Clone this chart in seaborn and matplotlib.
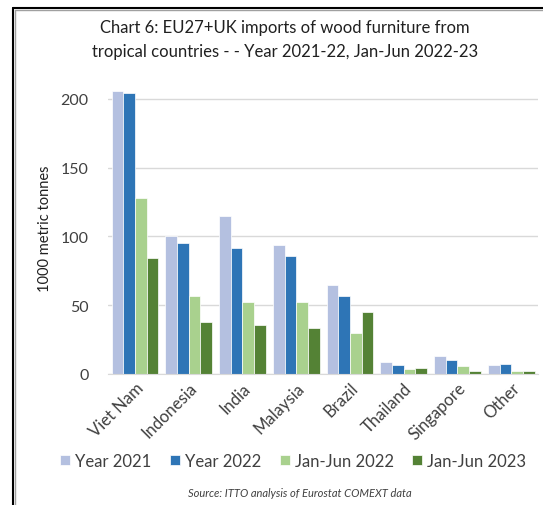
import numpy as np
import pandas as pd
import matplotlib
matplotlib.use("Agg")
import matplotlib.pyplot as plt
import seaborn as sns
from matplotlib.lines import Line2D

# Data (1000 metric tonnes)
countries = ["Viet Nam", "Indonesia", "India", "Malaysia", "Brazil", "Thailand", "Singapore", "Other"]
year_2021 = [205.5, 100.0, 115.0, 93.5, 64.5, 9.0, 13.0, 6.5]
year_2022 = [204.5, 95.0, 91.5, 85.5, 56.5, 6.5, 10.0, 7.5]
jan_jun_2022 = [128.0, 57.0, 52.5, 52.5, 30.0, 3.5, 5.5, 1.8]
jan_jun_2023 = [84.0, 38.0, 35.5, 33.5, 45.0, 4.5, 2.2, 2.2]
series = ["Year 2021", "Year 2022", "Jan-Jun 2022", "Jan-Jun 2023"]
colors = ["#B4C0E0", "#2E75B6", "#A9D18E", "#548235"]

df = pd.DataFrame({"country": countries, series[0]: year_2021, series[1]: year_2022,
                   series[2]: jan_jun_2022, series[3]: jan_jun_2023})
long = df.melt(id_vars="country", var_name="series", value_name="value")

sns.set_style("white")
plt.rcParams["font.family"] = ["Lato", "DejaVu Sans"]

fig = plt.figure(figsize=(5.43, 5.06), dpi=100)
ax = fig.add_axes([0.199, 0.259, 0.792, 0.576])

sns.barplot(data=long, x="country", y="value", hue="series", hue_order=series,
            palette=colors, saturation=1, width=0.87, edgecolor="white", linewidth=0.5,
            errorbar=None, ax=ax)

ax.set_ylim(0, 212)
ax.set_yticks([0, 50, 100, 150, 200])
ax.set_xlim(-0.5, len(countries) - 0.5)
ax.yaxis.grid(True, color="#D9D9D9", linewidth=1)
ax.set_axisbelow(True)
for s in ["top", "right", "left"]:
    ax.spines[s].set_visible(False)
ax.spines["bottom"].set_color("#D9D9D9")
ax.tick_params(axis="both", length=0, labelsize=11.5, colors="#404040")
ax.tick_params(axis="y", pad=14)
ax.tick_params(axis="x", pad=4)
plt.setp(ax.get_xticklabels(), rotation=45, ha="right", rotation_mode="anchor", fontsize=12)
ax.set_xlabel("")
ax.set_ylabel("1000 metric tonnes", fontsize=10.5, color="#202020", labelpad=6)

handles, labels = ax.get_legend_handles_labels()
ax.get_legend().remove()
fig.legend(handles, labels, loc="center", bbox_to_anchor=(0.54, 0.087), ncol=4,
           frameon=False, fontsize=12, handlelength=0.6, handleheight=0.6,
           handletextpad=0.3, columnspacing=1.1, labelcolor="#404040")

fig.text(0.525, 0.921, "Chart 6: EU27+UK imports of wood furniture from\ntropical countries - - Year 2021-22, Jan-Jun 2022-23",
         ha="center", va="center", fontsize=12, color="#202020", linespacing=1.55)
fig.text(0.553, 0.025, "Source: ITTO analysis of Eurostat COMEXT data", ha="center", va="center",
         fontsize=8, style="italic", color="#404040")

# frame around the chart
fig.add_artist(Line2D([15 / 543, 15 / 543], [0, 1 - 11 / 506], transform=fig.transFigure, color="#A0A0A0", lw=1))
fig.add_artist(Line2D([15 / 543, 1], [1 - 11 / 506, 1 - 11 / 506], transform=fig.transFigure, color="#A0A0A0", lw=1))
fig.add_artist(Line2D([13 / 543, 13 / 543], [0, 1 - 9 / 506], transform=fig.transFigure, color="black", lw=1.5))
fig.add_artist(Line2D([13 / 543, 1], [1 - 9 / 506, 1 - 9 / 506], transform=fig.transFigure, color="black", lw=1.5))

fig.savefig("out.png", dpi=100)
